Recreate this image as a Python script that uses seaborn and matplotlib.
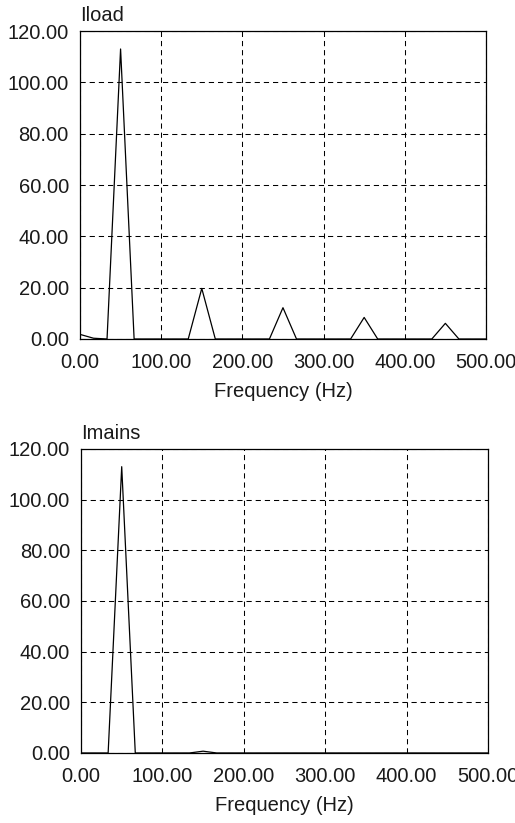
import matplotlib
matplotlib.use("Agg")
import matplotlib.pyplot as plt
import seaborn as sns
import pandas as pd
from matplotlib.ticker import FormatStrFormatter, MultipleLocator

# Spectrum bins (Hz)
freq = [0.00, 16.67, 33.33, 50.00, 66.67, 83.33, 100.00, 116.67, 133.33, 150.00,
        166.67, 183.33, 200.00, 216.67, 233.33, 250.00, 266.67, 283.33, 300.00,
        316.67, 333.33, 350.00, 366.67, 383.33, 400.00, 416.67, 433.33, 450.00,
        466.67, 483.33, 500.00]

# Load current harmonic magnitudes
iload = [1.8, 0.3, 0.0, 113.0, 0.0, 0.0, 0.0, 0.0, 0.0, 19.7,
         0.0, 0.0, 0.0, 0.0, 0.0, 12.2, 0.0, 0.0, 0.0,
         0.0, 0.0, 8.4, 0.0, 0.0, 0.0, 0.0, 0.0, 6.1,
         0.0, 0.0, 0.0]

# Mains current harmonic magnitudes
imains = [0.0, 0.0, 0.0, 113.0, 0.0, 0.0, 0.0, 0.0, 0.0, 0.7,
          0.0, 0.0, 0.0, 0.0, 0.0, 0.0, 0.0, 0.0, 0.0,
          0.0, 0.0, 0.0, 0.0, 0.0, 0.0, 0.0, 0.0, 0.0,
          0.0, 0.0, 0.0]

titles = ["Iload", "Imains"]
xlabel = "Frequency (Hz)"

sns.set_style("white")
plt.rcParams["font.family"] = ["Liberation Sans", "DejaVu Sans"]
plt.rcParams["font.size"] = 14.5

fig = plt.figure(figsize=(5.15, 8.23), dpi=100)
ax_top = fig.add_axes([0.1553, 0.5881, 0.7883, 0.3742])
ax_bot = fig.add_axes([0.1573, 0.0851, 0.7903, 0.3694])

txt_color = "#1a1a1a"

for ax, series, title in zip([ax_top, ax_bot], [iload, imains], titles):
    df = pd.DataFrame({"freq": freq, "amp": series})
    sns.lineplot(data=df, x="freq", y="amp", ax=ax, color="black",
                 linewidth=0.9, estimator=None, sort=False)
    ax.set_xlim(0, 500)
    ax.set_ylim(0, 120)
    ax.xaxis.set_major_locator(MultipleLocator(100))
    ax.yaxis.set_major_locator(MultipleLocator(20))
    ax.xaxis.set_major_formatter(FormatStrFormatter("%.2f"))
    ax.yaxis.set_major_formatter(FormatStrFormatter("%.2f"))
    ax.tick_params(axis="both", length=0, labelsize=14.5, colors=txt_color)
    ax.tick_params(axis="x", pad=10)
    ax.tick_params(axis="y", pad=8)
    ax.grid(True, color="black", linewidth=0.75, linestyle=(0, (5.0, 3.8)))
    for sp in ax.spines.values():
        sp.set_visible(True)
        sp.set_color("black")
        sp.set_linewidth(0.9)
    ax.set_xlabel(xlabel, fontsize=14.5, labelpad=7, color=txt_color)
    ax.set_ylabel("")
    ax.annotate(title, xy=(0, 1), xycoords="axes fraction",
                xytext=(0, 4), textcoords="offset points",
                ha="left", va="bottom", fontsize=14.5, color=txt_color)

fig.savefig("out.png", dpi=100, facecolor="white")
